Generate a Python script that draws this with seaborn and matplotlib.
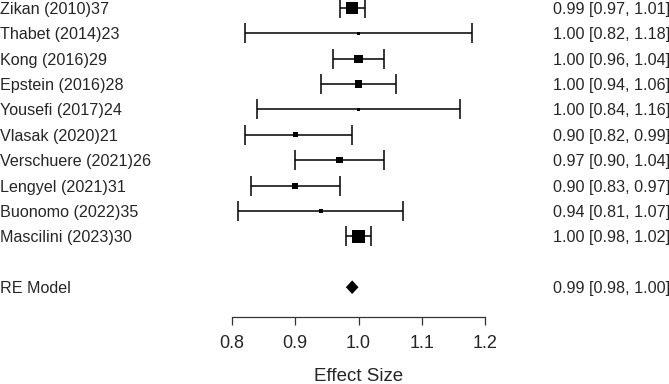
import pandas as pd
import matplotlib
matplotlib.use("Agg")
import matplotlib.pyplot as plt
import matplotlib.transforms as mtransforms
import numpy as np
import seaborn as sns

studies = ["Zikan (2010)37", "Thabet (2014)23", "Kong (2016)29", "Epstein (2016)28",
           "Yousefi (2017)24", "Vlasak (2020)21", "Verschuere (2021)26", "Lengyel (2021)31",
           "Buonomo (2022)35", "Mascilini (2023)30"]
est = [0.99, 1.00, 1.00, 1.00, 1.00, 0.90, 0.97, 0.90, 0.94, 1.00]
lower = [0.97, 0.82, 0.96, 0.94, 0.84, 0.82, 0.90, 0.83, 0.81, 0.98]
upper = [1.01, 1.18, 1.04, 1.06, 1.16, 0.99, 1.04, 0.97, 1.07, 1.02]
weights = [25.0, 1.8, 12.6, 9.6, 1.8, 4.9, 7.1, 7.1, 3.1, 28.3]
re_est, re_lower, re_upper = 0.99, 0.98, 1.00
xticks = [0.8, 0.9, 1.0, 1.1, 1.2]

k = len(studies)
df = pd.DataFrame({"study": studies, "est": est, "lower": lower, "upper": upper, "w": weights})
df["row"] = np.arange(k, 0, -1)
# square side in px ~ sqrt(weight)
df["s"] = (2.3 * np.sqrt(df["w"]) * 0.72) ** 2

sns.set_style("white")
plt.rcParams["font.family"] = ["Liberation Sans", "DejaVu Sans"]

W, H = 669, 384
fig = plt.figure(figsize=(W / 100, H / 100), dpi=100)
ax = fig.add_axes([232 / W, (H - 317) / H, (485 - 232) / W, 317 / H])

row_px = 25.4
ytop = k + 7.8 / row_px
ax.set_xlim(0.8, 1.2)
ax.set_ylim(ytop - 317 / row_px, ytop)

ax.errorbar(df["est"], df["row"], xerr=[df["est"] - df["lower"], df["upper"] - df["est"]],
            fmt="none", ecolor="black", elinewidth=1.1, capsize=7.2, capthick=1.1, clip_on=False)
sns.scatterplot(data=df, x="est", y="row", size="s", sizes=(df["s"].min(), df["s"].max()),
                size_norm=(df["s"].min(), df["s"].max()), marker="s", color="black",
                linewidth=0, legend=False, ax=ax, clip_on=False, zorder=3)

# summary diamond
dh = 6.8 / row_px
ax.fill([re_lower, re_est, re_upper, re_est], [-1, -1 + dh, -1, -1 - dh], color="black",
        clip_on=False, lw=0)

trans = mtransforms.blended_transform_factory(fig.transFigure, ax.transData)
trans = mtransforms.offset_copy(trans, fig=fig, y=-1.5, units="dots")
fs = 11.6
for s, r, e, lo, hi in zip(df["study"], df["row"], est, lower, upper):
    ax.text(0.0, r, s, transform=trans, ha="left", va="center", fontsize=fs)
    ax.text(553 / W, r, f"{e:.2f} [{lo:.2f}, {hi:.2f}]", transform=trans, ha="left",
            va="center", fontsize=fs)
ax.text(0.0, -1, "RE Model", transform=trans, ha="left", va="center", fontsize=fs)
ax.text(553 / W, -1, f"{re_est:.2f} [{re_lower:.2f}, {re_upper:.2f}]", transform=trans,
        ha="left", va="center", fontsize=fs)

for side in ["top", "left", "right"]:
    ax.spines[side].set_visible(False)
ax.spines["bottom"].set_color("#333333")
ax.spines["bottom"].set_linewidth(0.9)
ax.set_yticks([])
ax.set_xticks(xticks)
ax.set_xticklabels([f"{t:.1f}" for t in xticks])
ax.tick_params(axis="x", direction="out", length=5.8, width=0.9, color="#333333",
               labelsize=13, pad=7, bottom=True)
ax.set_xlabel("Effect Size", fontsize=13.5, labelpad=11.5)
ax.set_ylabel("")
ax.patch.set_alpha(0)

fig.savefig("out.png", dpi=100)
